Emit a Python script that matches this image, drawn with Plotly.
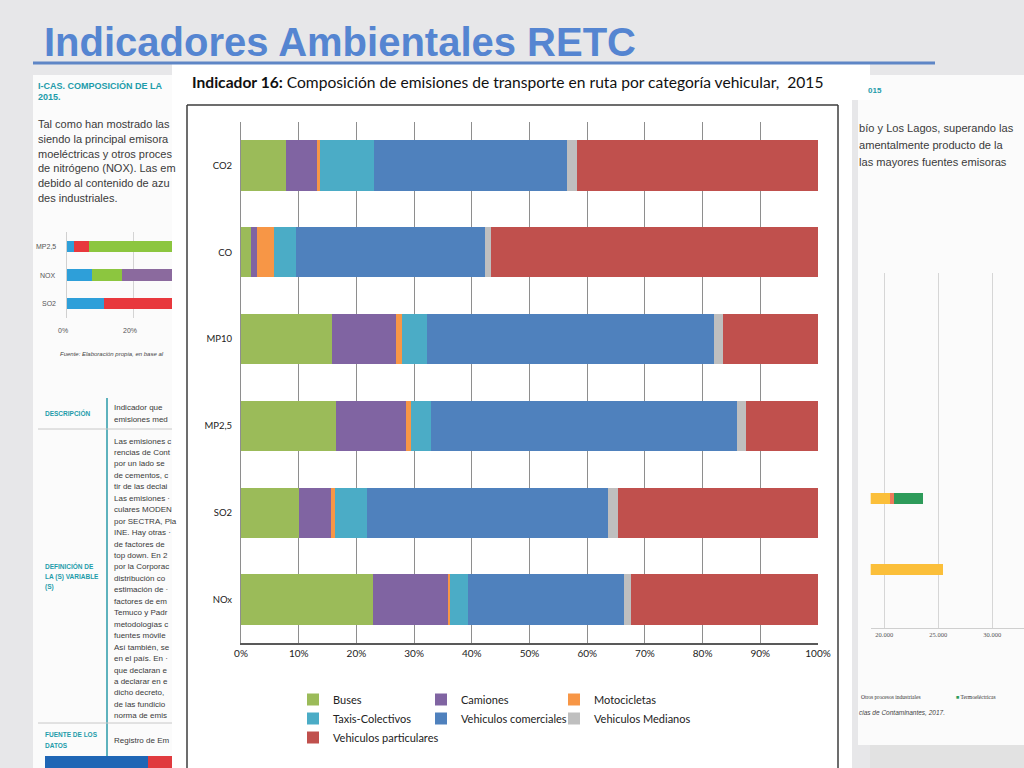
import plotly.graph_objects as go

# ---------------- main chart data ----------------
categories = ["CO2", "CO", "MP10", "MP2,5", "SO2", "NOx"]
buses = [7.8, 1.7, 15.8, 16.4, 10.0, 22.9]
camiones = [5.3, 1.1, 11.1, 12.2, 5.6, 13.1]
motocicletas = [0.6, 2.9, 1.0, 0.8, 0.7, 0.3]
taxis_colectivos = [9.3, 3.9, 4.3, 3.5, 5.6, 3.1]
vehiculos_comerciales = [33.5, 32.7, 49.7, 53.0, 41.7, 26.9]
vehiculos_medianos = [1.8, 1.1, 1.6, 1.6, 1.7, 1.3]
vehiculos_particulares = [41.7, 56.6, 16.5, 12.5, 34.7, 32.4]
x_ticks = [0, 10, 20, 30, 40, 50, 60, 70, 80, 90, 100]
x_tick_labels = ["0%", "10%", "20%", "30%", "40%", "50%", "60%", "70%", "80%", "90%", "100%"]

# ---------------- background document mini charts (partially visible) ----------------
left_cats = ["MP2,5", "NOX", "SO2"]
left_blue = [2.3, 7.4, 11.1]
left_red = [4.2, 0.0, 60.0]
left_green = [60.0, 9.1, 0.0]
left_purple = [0.0, 40.0, 0.0]

right_rows = [3, 4]
right_yellow = [20530, 25420]
right_red = [400, 0]
right_green = [2630, 0]
right_ticks = [20000, 25000, 30000]

W, H = 1024, 768


def px(x):
    return x / W


def py(y):
    return 1 - y / H


fig = go.Figure()

# legend columns: (column legend id)
series = [
    ("Buses", buses, "#9BBB59", "legend"),
    ("Camiones", camiones, "#8064A2", "legend2"),
    ("Motocicletas", motocicletas, "#F79646", "legend3"),
    ("Taxis-Colectivos", taxis_colectivos, "#4BACC6", "legend"),
    ("Vehiculos comerciales", vehiculos_comerciales, "#4F81BD", "legend2"),
    ("Vehiculos Medianos", vehiculos_medianos, "#BFBFBF", "legend3"),
    ("Vehiculos particulares", vehiculos_particulares, "#C0504D", "legend"),
]
for name, vals, col, lg in series:
    fig.add_trace(go.Bar(
        name=name, y=categories, x=vals, orientation="h",
        marker=dict(color=col, line=dict(width=0)), width=0.58,
        legend=lg, xaxis="x", yaxis="y",
    ))

# left mini chart
for name, vals, col in [("A", left_blue, "#2E9FD9"), ("B", left_red, "#E8383D"),
                        ("C", left_green, "#8CC63F"), ("D", left_purple, "#8B6A9E")]:
    fig.add_trace(go.Bar(name=name, y=left_cats, x=vals, orientation="h",
                         marker=dict(color=col, line=dict(width=0)), width=0.4,
                         showlegend=False, xaxis="x2", yaxis="y2"))

# right mini chart
for name, vals, col in [("Otros procesos industriales", right_yellow, "#FBBF3A"),
                        ("Otras fuentes", right_red, "#EE7A5B"),
                        ("Termoeléctricas", right_green, "#2E9B5A")]:
    fig.add_trace(go.Bar(name=name, y=right_rows, x=vals, orientation="h",
                         marker=dict(color=col, line=dict(width=0)), width=0.15,
                         showlegend=False, xaxis="x3", yaxis="y3"))


def pline(x0, y0, x1, y1, color, width):
    return dict(type="line", xref="paper", yref="paper", x0=px(x0), x1=px(x1), y0=py(y0), y1=py(y1),
                line=dict(width=width, color=color), layer="below")


def prect(x0, y0, x1, y1, color):
    return dict(type="rect", xref="paper", yref="paper", x0=px(x0), x1=px(x1), y0=py(y1), y1=py(y0),
                fillcolor=color, line=dict(width=0), layer="below")


shapes = [
    prect(33, 75, 172, 768, "#FBFBFB"),          # left document page
    prect(858, 75, 1024, 745, "#FBFBFB"),        # right document page
    prect(870, 745, 1024, 768, "#E2E2E2"),
    prect(172, 63, 870, 100, "#FFFFFF"),         # main white panel
    prect(172, 100, 852, 768, "#FFFFFF"),
    pline(187, 105, 838, 105, "#3C3C3C", 1.5),   # chart box border
    pline(187, 105, 187, 768, "#3C3C3C", 1.5),
    pline(838, 105, 838, 768, "#3C3C3C", 1.5),
    pline(33, 63, 935, 63, "#5E86C6", 3),        # title underline
    pline(107, 398, 107, 764, "#2A9AA8", 1.5),   # left table lines
    pline(38, 429, 172, 429, "#C8C8C8", 1),
    pline(38, 723, 172, 723, "#C8C8C8", 1),
    prect(45, 756, 148, 768, "#1F66B5"),
    prect(148, 756, 172, 768, "#E03A3E"),
]

ann = []
SANS = "Liberation Sans, Arial, sans-serif"


def text(x, y, s, size, color="#3A3A3A", family=SANS, anchor="left", xoff=-2):
    if anchor != "left":
        xoff = 0
    ann.append(dict(xref="paper", yref="paper", x=px(x + xoff), y=py(y), text=s, showarrow=False,
                    xanchor=anchor, yanchor="middle", font=dict(size=size, color=color, family=family)))


# slide title
text(45, 42, "<b>Indicadores Ambientales RETC</b>", 40, "#5585D1", SANS, xoff=-3)
# chart header
text(192, 82, "<b>Indicador 16:</b> Composición de emisiones de transporte en ruta por categoría vehicular,  2015",
     15.6, "#111111", "Lato, Noto Sans, sans-serif")

# left document text
teal = "#1E9CAA"
text(38, 85, "<b>I-CAS. COMPOSICIÓN DE LA</b>", 9, teal)
text(38, 97, "<b>2015.</b>", 9, teal)
para = ["Tal como han mostrado las", "siendo la principal emisora", "moeléctricas y otros proces",
        "de nitrógeno (NOX). Las em", "debido al contenido de azu", "des industriales."]
for i, s in enumerate(para):
    text(38, 124 + i * 14.8, s, 11)
for s, y in [("MP2,5", 246), ("NOX", 275), ("SO2", 304)]:
    text(58, y, s, 7, "#555555", anchor="right")
text(63, 331, "0%", 7, "#555555", anchor="center")
text(130, 331, "20%", 7, "#555555", anchor="center")
text(60, 354, "<i>Fuente: Elaboración propia, en base al</i>", 6, "#444444")
text(45, 413, "<b>DESCRIPCIÓN</b>", 6.5, teal)
text(114, 407, "Indicador que", 8)
text(114, 419, "emisiones med", 8)
defin = ["Las emisiones c", "rencias de Cont", "por un lado se", "de cementos, c", "tir de las declai",
         "Las emisiones ·", "culares MODEN", "por SECTRA, Pla", "INE. Hay otras ·", "de factores de",
         "top down. En 2", "por la Corporac", "distribución co", "estimación de ·", "factores de em",
         "Temuco y Padr", "metodologías c", "fuentes móvile", "Así también, se", "en el país. En ·",
         "que declaran e", "a declarar en e", "dicho decreto,", "de las fundicio", "norma de emis"]
for i, s in enumerate(defin):
    text(114, 441 + i * 11.45, s, 8)
text(45, 566, "<b>DEFINICIÓN DE</b>", 6.5, teal)
text(45, 577, "<b>LA (S) VARIABLE</b>", 6.5, teal)
text(45, 587, "<b>(S)</b>", 6.5, teal)
text(45, 734, "<b>FUENTE DE LOS</b>", 6.5, teal)
text(45, 745, "<b>DATOS</b>", 6.5, teal)
text(114, 740, "Registro de Em", 8)

# right document text
text(868, 90, "<b>015</b>", 8, teal)
for i, s in enumerate(["bío y Los Lagos, superando las", "amentalmente producto de la",
                       "las mayores fuentes emisoras"]):
    text(859, 128 + i * 17, s, 11.1)
text(861, 697, "Otros procesos industriales", 5.5, "#333333", "Liberation Serif, serif")
text(956, 697, "<span style='color:#2E9B5A'>■</span> Termoeléctricas", 5.5, "#333333", "Liberation Serif, serif")
text(859, 712, "<i>cias de Contaminantes, 2017.</i>", 6.5, "#444444")

legend_common = dict(orientation="v", xanchor="left", yanchor="top", traceorder="normal",
                     bgcolor="rgba(0,0,0,0)", y=py(685), tracegroupgap=0,
                     font=dict(size=11, color="#222222"), itemclick=False, itemdoubleclick=False)

noauto = dict(automargin=False)

fig.update_layout(
    width=W, height=H, autosize=False,
    margin=dict(l=0, r=0, t=0, b=0, pad=0, autoexpand=False),
    paper_bgcolor="#E7E7E9", plot_bgcolor="rgba(0,0,0,0)",
    barmode="stack", separators=",.",
    font=dict(family="Lato, Noto Sans, sans-serif", color="#222222"),
    shapes=shapes, annotations=ann,
    xaxis=dict(domain=[px(241), px(818)], range=[0, 100], tickvals=x_ticks, ticktext=x_tick_labels,
               showgrid=True, gridcolor="#8E8E8E", gridwidth=1, zeroline=False,
               showline=True, linecolor="#595959", linewidth=1.5, ticks="",
               tickfont=dict(size=10, color="#222222"), anchor="y", fixedrange=True, **noauto),
    yaxis=dict(domain=[py(643), py(122)], autorange="reversed", showgrid=False,
               showline=True, linecolor="#8E8E8E", linewidth=1, ticks="",
               ticklabelstandoff=6,
               tickfont=dict(size=9.5, color="#222222"), anchor="x", fixedrange=True, **noauto),
    xaxis2=dict(domain=[px(66.7), px(172)], range=[0, 31.3], tickvals=[0, 20], showticklabels=False,
                showgrid=True, gridcolor="#D4D4D4", zeroline=False, showline=False, anchor="y2", **noauto),
    yaxis2=dict(domain=[py(318), py(232)], autorange="reversed", showticklabels=False,
                showline=True, linecolor="#D0D0D0", ticks="", anchor="x2", **noauto),
    xaxis3=dict(domain=[px(870.7), px(1024)], range=[18740, 32934], tickvals=right_ticks,
                tickformat=",d", showgrid=True, gridcolor="#D6D6D6", zeroline=False,
                showline=True, linecolor="#CFCFCF", ticks="",
                tickfont=dict(size=6.5, color="#555555", family="Liberation Serif, serif"),
                anchor="y3", **noauto),
    yaxis3=dict(domain=[py(628), py(273)], range=[4.82, -0.18], showticklabels=False,
                showgrid=False, zeroline=False, showline=False, anchor="x3", **noauto),
    legend=dict(legend_common, x=px(293)),
    legend2=dict(legend_common, x=px(421)),
    legend3=dict(legend_common, x=px(554)),
)

fig.write_html("out.html", config={"displayModeBar": False},
               post_script="document.body.style.margin='0';document.body.style.overflow='hidden';")
